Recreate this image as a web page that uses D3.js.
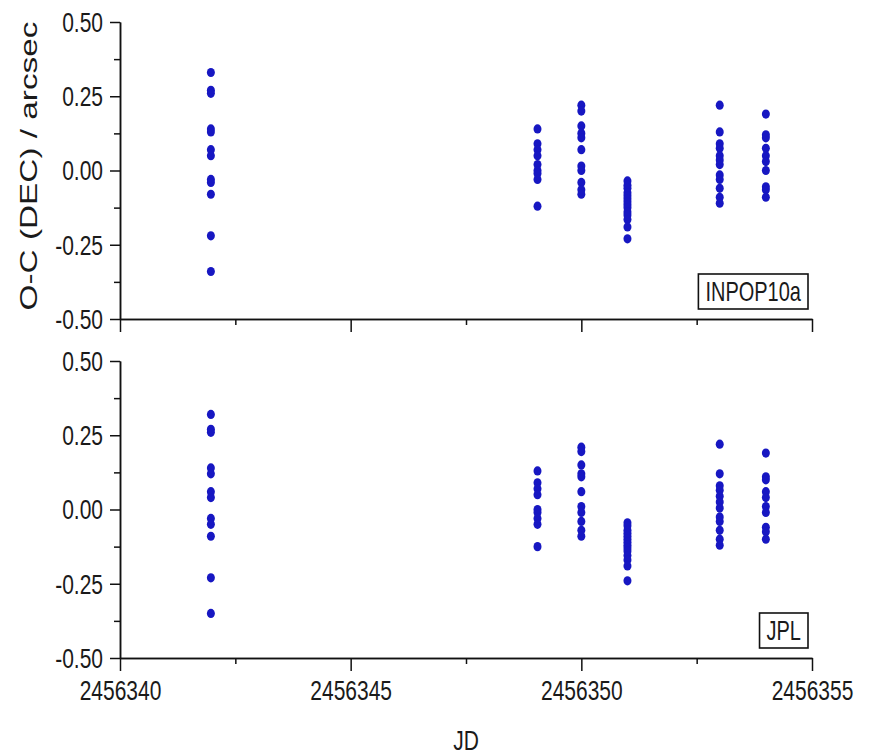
<!DOCTYPE html>
<html>
<head>
<meta charset="utf-8">
<script src="https://cdn.jsdelivr.net/npm/d3@7"></script>
<style>
  body { margin: 0; background: #fff; }
  text { font-family: "Liberation Sans", Arial, sans-serif; fill: #1a1a1a; }
  .axis path, .axis line { stroke: #111; stroke-width: 1.5; }
</style>
</head>
<body>
<div id="chart"></div>
<script>
// observing nights (JD) and O-C residuals in declination, arcsec
var nights = [2456341.97, 2456349.05, 2456350.00, 2456351.00, 2456353.00, 2456354.00];

var inpopOC = [
  [0.33, 0.27, 0.26, 0.14, 0.13, 0.07, 0.05, -0.03, -0.04, -0.08, -0.22, -0.34],
  [0.14, 0.09, 0.07, 0.05, 0.02, 0.00, -0.01, -0.03, -0.12],
  [0.22, 0.20, 0.15, 0.125, 0.11, 0.07, 0.015, 0.00, -0.04, -0.065, -0.08],
  [-0.035, -0.05, -0.06, -0.075, -0.085, -0.095, -0.105, -0.115, -0.125, -0.14, -0.15, -0.165, -0.19, -0.23],
  [0.22, 0.13, 0.09, 0.075, 0.05, 0.035, 0.02, -0.015, -0.03, -0.06, -0.09, -0.11],
  [0.19, 0.12, 0.11, 0.075, 0.05, 0.03, 0.00, -0.055, -0.065, -0.09]
];

var jplOC = [
  [0.32, 0.27, 0.26, 0.14, 0.12, 0.06, 0.04, -0.03, -0.05, -0.09, -0.23, -0.35],
  [0.13, 0.09, 0.07, 0.05, 0.00, -0.01, -0.03, -0.05, -0.125],
  [0.21, 0.195, 0.15, 0.12, 0.11, 0.06, 0.01, -0.01, -0.04, -0.07, -0.09],
  [-0.045, -0.055, -0.07, -0.08, -0.09, -0.10, -0.11, -0.12, -0.13, -0.14, -0.155, -0.17, -0.19, -0.24],
  [0.22, 0.12, 0.08, 0.065, 0.045, 0.025, 0.005, -0.025, -0.04, -0.07, -0.10, -0.12],
  [0.19, 0.11, 0.10, 0.06, 0.04, 0.01, -0.01, -0.06, -0.075, -0.10]
];

var panels = [
  {name: "INPOP10a", values: inpopOC},
  {name: "JPL", values: jplOC}
];

var xMajor = [2456340, 2456345, 2456350, 2456355],
    xMinor = [2456342.5, 2456347.5, 2456352.5],
    yMajor = [-0.5, -0.25, 0, 0.25, 0.5],
    yMinor = [-0.375, -0.125, 0.125, 0.375];

var width = 869, height = 755,
    left = 120, plotW = 692, plotH = 297,
    tops = [22, 361],
    stretch = 1.35;

var svg = d3.select("#chart").append("svg")
    .attr("width", width)
    .attr("height", height);

var x = d3.scaleLinear()
    .domain([2456340, 2456355])
    .range([left, left + plotW]);

panels.forEach(function(p, i) {
  var top = tops[i],
      bottom = top + plotH,
      last = i === panels.length - 1;

  var y = d3.scaleLinear()
      .domain([-0.5, 0.5])
      .range([bottom, top]);

  // minor ticks first, then the axes with labels
  svg.append("g")
      .attr("class", "axis")
      .attr("transform", "translate(" + left + ",0)")
      .call(d3.axisLeft(y).tickValues(yMinor).tickSize(6).tickSizeOuter(0).tickFormat(""));

  var ya = svg.append("g")
      .attr("class", "axis")
      .attr("transform", "translate(" + left + ",0)")
      .call(d3.axisLeft(y).tickValues(yMajor).tickSize(10).tickSizeOuter(0)
        .tickPadding(7)
        .tickFormat(function(d) { return d.toFixed(2); }));
  ya.selectAll("text")
      .style("font-size", "21px")
      .attr("dy", "0.33em")
      .attr("transform", "scale(1," + stretch + ")");

  svg.append("g")
      .attr("class", "axis")
      .attr("transform", "translate(0," + bottom + ")")
      .call(d3.axisBottom(x).tickValues(xMinor).tickSize(6).tickSizeOuter(0).tickFormat(""));

  var xa = svg.append("g")
      .attr("class", "axis")
      .attr("transform", "translate(0," + bottom + ")")
      .call(d3.axisBottom(x).tickValues(xMajor).tickSize(13).tickSizeOuter(0)
        .tickFormat(last ? d3.format("d") : ""));
  xa.selectAll("text")
      .style("font-size", "21px")
      .attr("y", 0)
      .attr("dy", 0)
      .attr("transform", "translate(0,42) scale(1," + stretch + ")");

  // flatten nights x residuals into points
  var pts = [];
  p.values.forEach(function(vals, k) {
    vals.forEach(function(v) { pts.push({jd: nights[k], oc: v}); });
  });

  svg.append("g").selectAll("ellipse")
    .data(pts)
    .enter().append("ellipse")
      .attr("cx", function(d) { return x(d.jd); })
      .attr("cy", function(d) { return y(d.oc); })
      .attr("rx", 4)
      .attr("ry", 4.6)
      .attr("fill", "#1717c2");

  // label box in the lower right corner
  var lab = svg.append("g"),
      t = lab.append("text")
        .attr("text-anchor", "middle")
        .style("font-size", "20px")
        .text(p.name);
  var tw = t.node().getComputedTextLength(),
      bw = tw + 14, bh = 35,
      bx = left + plotW - 4 - bw,
      by = bottom - 10 - bh;
  t.attr("transform", "translate(" + (bx + bw / 2) + "," + (by + 27) + ") scale(1," + stretch + ")");
  lab.insert("rect", "text")
      .attr("x", bx).attr("y", by)
      .attr("width", bw).attr("height", bh)
      .attr("fill", "none")
      .attr("stroke", "#111")
      .attr("stroke-width", 1.6);
});

svg.append("text")
    .attr("text-anchor", "middle")
    .style("font-size", "23px")
    .attr("transform", "translate(37,166) rotate(-90) scale(1.45,1)")
    .text("O-C (DEC) / arcsec");

svg.append("text")
    .attr("text-anchor", "middle")
    .style("font-size", "21px")
    .attr("transform", "translate(" + x(2456347.5) + ",750) scale(1," + stretch + ")")
    .text("JD");
</script>
</body>
</html>
